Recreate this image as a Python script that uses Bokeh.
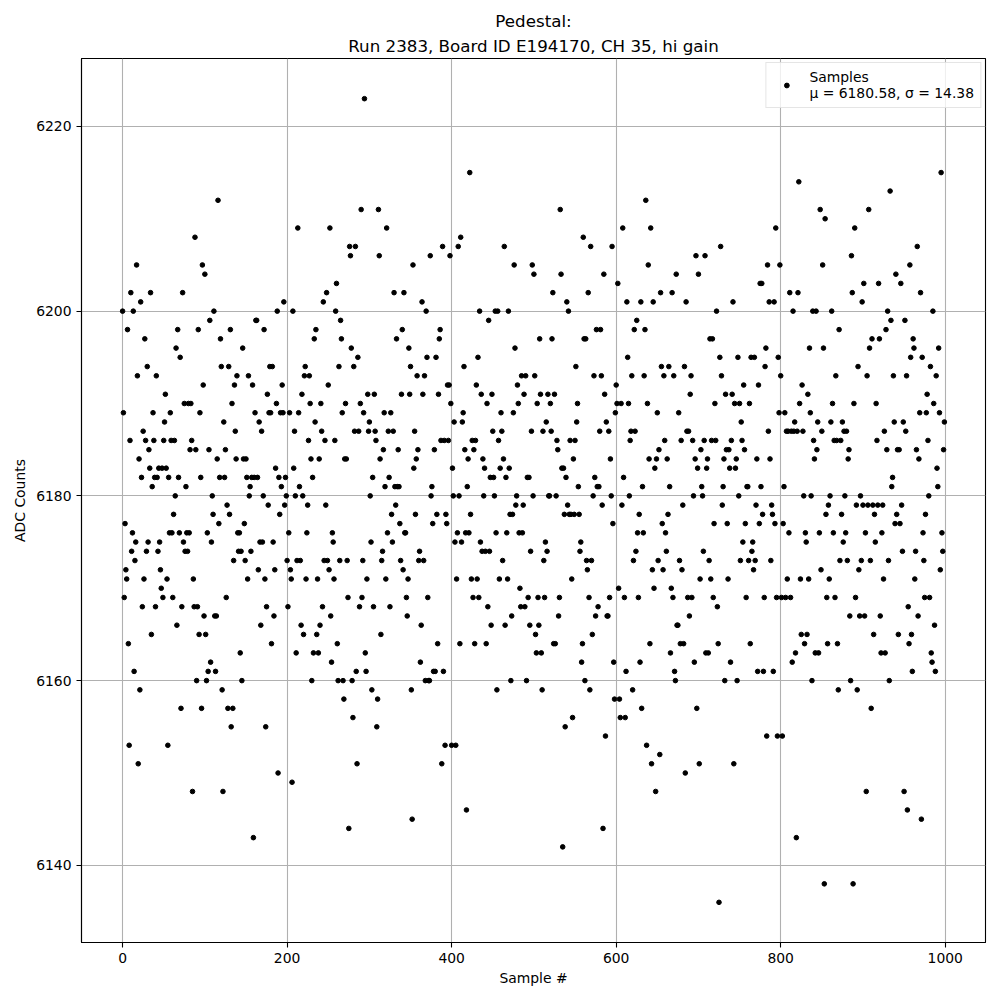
from bokeh.plotting import figure
from bokeh.models import Range1d, FixedTicker, Title, Legend, LegendItem, ColumnDataSource
from bokeh.embed import file_html
from bokeh.resources import INLINE

title_line1 = "Pedestal:"
title_line2 = "Run 2383, Board ID E194170, CH 35, hi gain"
x_label = "Sample #"
y_label = "ADC Counts"
legend_name = "Samples"
legend_stats = "\u03bc = 6180.58, \u03c3 = 14.38"
x_ticks = [0, 200, 400, 600, 800, 1000]
y_ticks = [6140, 6160, 6180, 6200, 6220]

adc_counts_0 = [
    6200, 6189, 6169, 6177, 6172, 6171, 6198, 6164, 6153, 6186,
    6202, 6174, 6176, 6200, 6161, 6173, 6175, 6205, 6193, 6151,
    6184, 6159, 6201, 6182, 6168, 6187, 6171, 6197, 6186, 6174,
    6194, 6175, 6185, 6183, 6202, 6165, 6181, 6189, 6186, 6182,
    6168, 6193, 6182, 6174, 6183, 6175, 6172, 6170, 6183, 6169,
    6186, 6188, 6191, 6183, 6171, 6153, 6182, 6176, 6189, 6186,
    6176, 6169, 6178, 6186, 6180, 6196, 6166, 6198, 6182, 6176,
    6195, 6157, 6168, 6202, 6175, 6190, 6174, 6181, 6176]
adc_counts_1 = [
    6174, 6190, 6176, 6185, 6190, 6186, 6148, 6171, 6168, 6208,
    6185, 6160, 6168, 6198, 6165, 6189, 6182, 6157, 6205, 6192,
    6167, 6204, 6165, 6160, 6176, 6161, 6185, 6199, 6162, 6175,
    6180, 6178, 6200, 6167, 6161, 6167, 6184, 6212, 6177, 6182,
    6197, 6194, 6159, 6148, 6188, 6182, 6185, 6169, 6179, 6157,
    6194, 6178, 6198, 6155, 6190, 6157, 6173, 6192, 6187, 6184,
    6193, 6176, 6174, 6176, 6163, 6174, 6160, 6196, 6184, 6177,
    6173, 6184, 6182, 6171, 6193, 6180, 6181, 6174, 6182, 6192,
    6143, 6182, 6189, 6199]
adc_counts_2 = [
    6199, 6182, 6172, 6188, 6175, 6166, 6187, 6175, 6180, 6198,
    6171, 6155, 6168, 6191, 6179, 6189, 6194, 6189, 6164, 6194,
    6175, 6167, 6172, 6183, 6190, 6200, 6150, 6182, 6178, 6189,
    6181, 6192, 6189, 6201, 6179, 6182, 6180, 6173, 6168, 6176,
    6189, 6172, 6171, 6149, 6200, 6183, 6187, 6180, 6163, 6173,
    6209, 6189, 6181, 6173, 6166, 6191, 6180, 6165, 6193, 6194,
    6171, 6176, 6179, 6186, 6193, 6190, 6184, 6160, 6182, 6163,
    6197, 6188, 6198, 6165, 6171, 6163, 6184, 6166, 6190, 6187,
    6168, 6201, 6173, 6186, 6179, 6202]
adc_counts_3 = [
    6173, 6192, 6172, 6209, 6167, 6162, 6176, 6175, 6171, 6186,
    6200, 6203, 6164, 6160, 6194, 6173, 6199, 6197, 6189, 6160,
    6158, 6184, 6190, 6184, 6173, 6169, 6144, 6207, 6206, 6196,
    6160, 6156, 6194, 6187, 6207, 6161, 6151, 6195, 6187, 6168,
    6190, 6211, 6169, 6173, 6189, 6223, 6163, 6161, 6171, 6191,
    6187, 6188, 6180, 6175, 6159, 6182, 6168, 6191, 6187, 6186,
    6155, 6158, 6211, 6206, 6184, 6165, 6173, 6174, 6185, 6189,
    6181, 6171, 6209, 6176, 6187, 6182, 6168, 6189, 6178, 6175,
    6187, 6202, 6181, 6179, 6197]
adc_counts_4 = [
    6181, 6185, 6181, 6177, 6173, 6191, 6198, 6172, 6202, 6176,
    6176, 6169, 6167, 6171, 6196, 6191, 6194, 6159, 6145, 6205,
    6183, 6187, 6178, 6184, 6193, 6185, 6173, 6174, 6162, 6166,
    6201, 6191, 6173, 6193, 6160, 6200, 6195, 6169, 6160, 6160,
    6206, 6180, 6181, 6177, 6161, 6185, 6161, 6195, 6178, 6164,
    6191, 6197, 6198, 6186, 6151, 6207, 6161, 6186, 6153, 6178,
    6177, 6192, 6186, 6192, 6206, 6190, 6153, 6183, 6180, 6188,
    6175, 6153, 6171, 6176, 6207, 6180, 6164, 6208, 6175, 6188,
    6189, 6194, 6185, 6176, 6146, 6181]
adc_counts_5 = [
    6184, 6176, 6215, 6178, 6171, 6186, 6169, 6185, 6164, 6186,
    6192, 6171, 6195, 6169, 6200, 6175, 6191, 6174, 6184, 6180,
    6183, 6174, 6164, 6190, 6168, 6199, 6174, 6182, 6166, 6191,
    6187, 6182, 6180, 6200, 6176, 6159, 6200, 6186, 6171, 6183,
    6189, 6187, 6173, 6184, 6207, 6166, 6182, 6176, 6171, 6200,
    6183, 6178, 6160, 6167, 6178, 6189, 6205, 6196, 6179, 6180,
    6192, 6190, 6176, 6170, 6168, 6193, 6176, 6179, 6191, 6168,
    6193, 6160, 6182, 6169, 6182, 6166, 6174, 6187, 6205, 6180,
    6204, 6193, 6165]
adc_counts_6 = [
    6163, 6190, 6169, 6166, 6197, 6191, 6163, 6159, 6187, 6173,
    6169, 6175, 6188, 6174, 6191, 6180, 6180, 6190, 6187, 6197,
    6202, 6164, 6191, 6164, 6180, 6186, 6185, 6167, 6169, 6211,
    6204, 6183, 6142, 6183, 6178, 6155, 6182, 6201, 6179, 6200,
    6178, 6186, 6178, 6171, 6156, 6184, 6178, 6186, 6194, 6188,
    6190, 6181, 6178, 6174, 6175, 6162, 6164, 6208, 6197, 6160,
    6197, 6173, 6172, 6202, 6169, 6159, 6207, 6173, 6165, 6180,
    6193, 6182, 6167, 6198, 6181, 6168, 6181, 6187, 6198, 6193,
    6179, 6144, 6204, 6191, 6154, 6188, 6167]
adc_counts_7 = [
    6167, 6187, 6169, 6184, 6180, 6207, 6177, 6162, 6158, 6189,
    6192, 6190, 6203, 6170, 6158, 6156, 6190, 6179, 6209, 6182,
    6169, 6156, 6161, 6201, 6195, 6190, 6180, 6186, 6187, 6193,
    6159, 6173, 6198, 6187, 6174, 6199, 6176, 6169, 6178, 6162,
    6201, 6157, 6181, 6176, 6193, 6198, 6212, 6153, 6190, 6205,
    6184, 6164, 6209, 6151, 6172, 6201, 6170, 6183, 6148, 6184,
    6189, 6173, 6185, 6152, 6202, 6194, 6177, 6172, 6193, 6186,
    6176, 6174, 6184, 6178, 6194, 6181, 6163, 6170, 6202, 6169,
    6193, 6161, 6160, 6204, 6166]
adc_counts_8 = [
    6166, 6189, 6173, 6164, 6186, 6172, 6179, 6164, 6194, 6150,
    6201, 6187, 6169, 6187, 6167, 6191, 6193, 6169, 6186, 6180,
    6162, 6184, 6206, 6157, 6183, 6204, 6151, 6171, 6185, 6181,
    6180, 6174, 6186, 6206, 6163, 6183, 6184, 6163, 6173, 6197,
    6171, 6186, 6197, 6169, 6177, 6190, 6186, 6200, 6168, 6164,
    6136, 6195, 6207, 6193, 6179, 6181, 6184, 6160, 6191, 6185,
    6177, 6171, 6185, 6183, 6162, 6186, 6191, 6201, 6151, 6190,
    6183, 6184, 6160, 6195, 6180, 6190, 6173, 6188, 6186, 6175,
    6192, 6185, 6177, 6169, 6181]
adc_counts_9 = [
    6181, 6173, 6190, 6164, 6195, 6174, 6175, 6172, 6195, 6173,
    6179, 6184, 6161, 6192, 6177, 6203, 6181, 6203, 6178, 6161,
    6169, 6194, 6196, 6154, 6205, 6187, 6201, 6184, 6173, 6179,
    6178, 6161, 6201, 6177, 6209, 6169, 6154, 6195, 6189, 6205,
    6193, 6169, 6154, 6177, 6181, 6189, 6169, 6187, 6171, 6187,
    6176, 6202, 6169, 6187, 6162, 6200, 6187, 6188, 6163, 6143,
    6187, 6202, 6214, 6190, 6171, 6165, 6192, 6187, 6180, 6164,
    6176, 6175, 6165, 6191, 6171, 6196, 6189, 6180, 6160, 6200,
    6186, 6184, 6163]
adc_counts_10 = [
    6200, 6185, 6188, 6163, 6176, 6211, 6172, 6187, 6205, 6196,
    6138, 6210, 6178, 6169, 6164, 6179, 6171, 6180, 6188, 6200,
    6190, 6176, 6186, 6169, 6193, 6186, 6164, 6159, 6198, 6173,
    6186, 6178, 6188, 6175, 6187, 6180, 6176, 6187, 6173, 6184,
    6185, 6167, 6160, 6206, 6202, 6138, 6190, 6209, 6169, 6179,
    6159, 6194, 6172, 6167, 6180, 6173, 6201, 6179, 6203, 6167,
    6176, 6148, 6193, 6179, 6211, 6196, 6173, 6157, 6197, 6179,
    6165, 6178, 6175, 6190, 6186, 6179, 6203, 6197, 6167, 6163,
    6176, 6179, 6171, 6187, 6163]
adc_counts_11 = [
    6198, 6185, 6200, 6173, 6160, 6213, 6199, 6181, 6182, 6193,
    6188, 6177, 6204, 6178, 6185, 6165, 6185, 6177, 6203, 6179,
    6174, 6188, 6148, 6199, 6187, 6193, 6146, 6168, 6164, 6205,
    6195, 6165, 6161, 6197, 6196, 6171, 6174, 6185, 6207, 6167,
    6184, 6189, 6202, 6145, 6195, 6176, 6173, 6169, 6178, 6189,
    6191, 6186, 6180, 6169, 6194, 6163, 6162, 6200, 6190, 6166,
    6161, 6193, 6183, 6181, 6196, 6189, 6172, 6215, 6176, 6174,
    6185, 6188]

adc_counts = (adc_counts_0 + adc_counts_1 + adc_counts_2 + adc_counts_3 +
              adc_counts_4 + adc_counts_5 + adc_counts_6 + adc_counts_7 +
              adc_counts_8 + adc_counts_9 + adc_counts_10 + adc_counts_11)
sample_number = list(range(len(adc_counts)))

FONT = "DejaVu Sans"
source = ColumnDataSource(data=dict(x=sample_number, y=adc_counts))

p = figure(width=987, height=990, output_backend="svg", toolbar_location=None,
           x_range=Range1d(-49.95, 1048.95), y_range=Range1d(6131.65, 6227.35),
           min_border_left=81, min_border_right=2, min_border_top=58, min_border_bottom=48)
p.background_fill_color = "white"
p.border_fill_color = "white"
p.outline_line_color = "black"
p.outline_line_width = 1.1

r = p.scatter("x", "y", source=source, size=4.6, color="black", marker="circle")

# titles (added nearest-first)
t2 = Title(text=title_line2, align="center", text_font=FONT, text_font_size="16.7px",
           text_font_style="normal", text_color="black", standoff=6)
t1 = Title(text=title_line1, align="center", text_font=FONT, text_font_size="16.7px",
           text_font_style="normal", text_color="black", standoff=0)
p.add_layout(t2, "above")
p.add_layout(t1, "above")

for ax in (p.xaxis[0], p.yaxis[0]):
    ax.axis_line_color = "black"
    ax.axis_line_width = 1.1
    ax.major_tick_line_color = "black"
    ax.major_tick_line_width = 1.1
    ax.major_tick_out = 5
    ax.major_tick_in = 0
    ax.minor_tick_line_color = None
    ax.major_label_text_font = FONT
    ax.major_label_text_font_size = "13.9px"
    ax.major_label_text_color = "black"
    ax.major_label_standoff = 5
    ax.axis_label_text_font = FONT
    ax.axis_label_text_font_size = "13.9px"
    ax.axis_label_text_font_style = "normal"
    ax.axis_label_text_color = "black"

p.xaxis[0].ticker = FixedTicker(ticks=x_ticks)
p.yaxis[0].ticker = FixedTicker(ticks=y_ticks)
p.xaxis[0].axis_label = x_label
p.yaxis[0].axis_label = y_label
p.xaxis[0].axis_label_standoff = 4
p.yaxis[0].axis_label_standoff = 5

p.xgrid.grid_line_color = "#b0b0b0"
p.ygrid.grid_line_color = "#b0b0b0"
p.xgrid.grid_line_width = 1.1
p.ygrid.grid_line_width = 1.1

legend = Legend(items=[LegendItem(label=legend_name + "\n" + legend_stats, renderers=[r])],
                location="top_right")
legend.label_text_font = FONT
legend.label_text_font_size = "13.9px"
legend.label_text_color = "black"
legend.label_text_line_height = 1.3
legend.glyph_width = 28
legend.glyph_height = 12
legend.label_standoff = 9
legend.padding = 6
legend.margin = 4
legend.border_line_color = "#cccccc"
legend.border_line_width = 1.1
legend.background_fill_alpha = 0.8
p.add_layout(legend)

open("out.html", "w").write(file_html(p, INLINE))
